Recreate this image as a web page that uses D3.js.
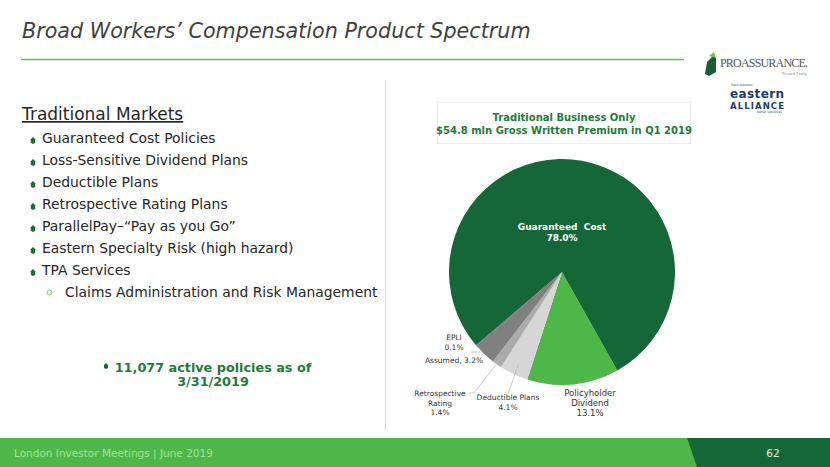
<!DOCTYPE html>
<html>
<head>
<meta charset="utf-8">
<script src="https://cdn.jsdelivr.net/npm/d3@7"></script>
<style>
  body { margin: 0; background: #fff; }
  svg { display: block; font-family: "DejaVu Sans", Verdana, sans-serif; }
</style>
</head>
<body>
<div id="slide"></div>
<script>
// slide size
const width = 830;
const height = 467;

// pie data (clockwise from the policyholder slice)
const categories = ["Policyholder Dividend", "Deductible Plans", "Retrospective Rating", "Assumed", "EPLI", "Guaranteed Cost"];
const shares = [13.1, 4.1, 1.4, 3.2, 0.1, 78.0];
const colors = ["#4db848", "#d6d6d6", "#ababab", "#808080", "#5e5e5e", "#166737"];

// left hand text
const bullets = ["Guaranteed Cost Policies", "Loss-Sensitive Dividend Plans", "Deductible Plans",
  "Retrospective Rating Plans", "ParallelPay\u2013\u201cPay as you Go\u201d",
  "Eastern Specialty Risk (high hazard)", "TPA Services"];
const subBullets = ["Claims Administration and Risk Management"];

const svg = d3.select("#slide")
  .append("svg")
  .attr("width", width)
  .attr("height", height)
  .attr("viewBox", [0, 0, width, height]);

// header
svg.append("text")
  .attr("x", 22).attr("y", 38)
  .attr("font-size", "20.7px")
  .attr("font-style", "italic")
  .attr("fill", "#3f3f3f")
  .text("Broad Workers\u2019 Compensation Product Spectrum");

svg.append("line")
  .attr("x1", 21).attr("x2", 684)
  .attr("y1", 59.5).attr("y2", 59.5)
  .attr("stroke", "#5cc150").attr("stroke-width", 1.5);

// divider
svg.append("line")
  .attr("x1", 385.5).attr("x2", 385.5)
  .attr("y1", 80).attr("y2", 430)
  .attr("stroke", "#d9d9d9").attr("stroke-width", 1);

// logos (rough)
svg.append("path")
  .attr("d", "M707,62 L714,55 L716,58 L716,72 L709,76 L705,74 Z")
  .attr("fill", "#1a5e31");
svg.append("path")
  .attr("d", "M709,56 L714,52 L716,58 Z")
  .attr("fill", "#6cc24a");
svg.append("text")
  .attr("x", 720).attr("y", 67)
  .attr("font-family", "Liberation Serif, serif")
  .attr("font-size", "12px").attr("fill", "#555")
  .attr("textLength", 88)
  .text("PROASSURANCE.");
svg.append("text")
  .attr("x", 807).attr("y", 75)
  .attr("text-anchor", "end")
  .attr("font-family", "Liberation Serif, serif")
  .attr("font-size", "4.5px").attr("fill", "#888")
  .text("Treated Fairly");
svg.append("text")
  .attr("x", 731).attr("y", 86)
  .attr("font-size", "3px").attr("fill", "#1c3a6b")
  .text("fresh outlooks");
svg.append("text")
  .attr("x", 757).attr("y", 98)
  .attr("text-anchor", "middle")
  .attr("font-size", "12px").attr("font-weight", "bold")
  .attr("fill", "#1c3a6b")
  .attr("textLength", 54)
  .text("eastern");
svg.append("text")
  .attr("x", 757).attr("y", 109)
  .attr("text-anchor", "middle")
  .attr("font-size", "8.5px").attr("font-weight", "bold")
  .attr("fill", "#1c3a6b")
  .attr("textLength", 54)
  .text("ALLIANCE");
svg.append("text")
  .attr("x", 770).attr("y", 113)
  .attr("text-anchor", "middle")
  .attr("font-size", "3px").attr("fill", "#1c3a6b")
  .text("better outcomes.");

// left column
const left = svg.append("g");
left.append("text")
  .attr("x", 22).attr("y", 120)
  .attr("font-size", "17px")
  .attr("fill", "#262626")
  .attr("text-decoration", "underline")
  .text("Traditional Markets");

const rowY = d3.scaleLinear().domain([0, 1]).range([143, 165]);

bullets.forEach((b, i) => {
  const y = rowY(i);
  left.append("path")
    .attr("d", `M${33},${y - 6} l2.2,2.2 l0,3.5 l-2.2,1.2 l-2.2,-1.2 l0,-3.5 Z`)
    .attr("fill", "#1a6b38");
  left.append("text")
    .attr("x", 42).attr("y", y)
    .attr("font-size", "13.9px")
    .attr("fill", "#262626")
    .text(b);
});

subBullets.forEach((b, i) => {
  const y = rowY(bullets.length + i);
  left.append("circle")
    .attr("cx", 49.5).attr("cy", y - 4.5).attr("r", 2.5)
    .attr("fill", "none").attr("stroke", "#6cc24a").attr("stroke-width", 0.8);
  left.append("text")
    .attr("x", 65).attr("y", y)
    .attr("font-size", "13.9px")
    .attr("fill", "#262626")
    .text(b);
});

left.append("path")
  .attr("d", "M106,363 l2,2 l0,3 l-2,1 l-2,-1 l0,-3 Z")
  .attr("fill", "#1a6b38");
left.append("text")
  .attr("x", 213).attr("y", 371.5)
  .attr("text-anchor", "middle")
  .attr("font-size", "12.8px").attr("font-weight", "bold")
  .attr("fill", "#1e7b3a")
  .text("11,077 active policies as of");
left.append("text")
  .attr("x", 213).attr("y", 386)
  .attr("text-anchor", "middle")
  .attr("font-size", "12.8px").attr("font-weight", "bold")
  .attr("fill", "#1e7b3a")
  .text("3/31/2019");

// chart title box
svg.append("rect")
  .attr("x", 437.5).attr("y", 102.5)
  .attr("width", 253).attr("height", 41)
  .attr("fill", "#fff")
  .attr("stroke", "#d9d9d9").attr("stroke-dasharray", "1,1");
svg.append("text")
  .attr("x", 564).attr("y", 121)
  .attr("text-anchor", "middle")
  .attr("font-size", "10px").attr("font-weight", "bold")
  .attr("fill", "#1e7b3a")
  .text("Traditional Business Only");
svg.append("text")
  .attr("x", 564).attr("y", 133.5)
  .attr("text-anchor", "middle")
  .attr("font-size", "10px").attr("font-weight", "bold")
  .attr("fill", "#1e7b3a")
  .text("$54.8 mln Gross Written Premium in Q1 2019");

// pie
const cx = 562, cy = 272, radius = 113;
const start = 150.7 * Math.PI / 180;
const pie = d3.pie().sort(null).startAngle(start).endAngle(start + 2 * Math.PI);
const arcs = pie(shares);
const arc = d3.arc().innerRadius(0).outerRadius(radius);

const pieG = svg.append("g").attr("transform", `translate(${cx},${cy})`);
pieG.selectAll("path")
  .data(arcs)
  .enter()
  .append("path")
  .attr("d", arc)
  .attr("fill", (d, i) => colors[i])
  .attr("stroke", "none");

// leader lines for the small slices
const edge = d3.arc().innerRadius(radius * 0.9).outerRadius(radius * 0.9);
const leaders = [
  { i: 1, to: [-54, 122] },
  { i: 2, to: [-94, 121], via: [-88, 121] },
  { i: 4, to: [-91, 80] }
];
leaders.forEach(l => {
  const p = edge.centroid(arcs[l.i]);
  let pts = [p, l.to];
  if (l.i === 4) pts = [[-82, 80], l.to];
  if (l.i === 2) pts = [p, l.via, l.to];
  pieG.append("path")
    .attr("d", d3.line()(pts))
    .attr("fill", "none")
    .attr("stroke", "#bfbfbf").attr("stroke-width", 0.8);
});

// slice labels
const label = (x, y, lines, opts) => {
  const t = svg.append("text")
    .attr("text-anchor", "middle")
    .attr("font-size", opts.size)
    .attr("font-weight", opts.weight || "normal")
    .attr("fill", opts.fill);
  lines.forEach((ln, k) => {
    t.append("tspan").attr("x", x).attr("y", y + k * opts.lh).text(ln);
  });
};
const pct = v => v.toFixed(1) + "%";

label(562, 230, ["Guaranteed\u00a0 Cost", pct(shares[5])], { size: "9px", weight: "bold", fill: "#fff", lh: 11 });
label(590, 396, ["Policyholder", "Dividend", pct(shares[0])], { size: "8.5px", fill: "#333", lh: 10 });
label(508, 400, ["Deductible Plans", pct(shares[1])], { size: "7.5px", fill: "#333", lh: 10 });
label(440, 396, ["Retrospective", "Rating", pct(shares[2])], { size: "7.5px", fill: "#333", lh: 9.5 });
label(454, 363, ["Assumed, " + pct(shares[3])], { size: "7.5px", fill: "#333", lh: 10 });
label(454, 340, ["EPLI", pct(shares[4])], { size: "7.5px", fill: "#333", lh: 10 });

// footer
svg.append("rect")
  .attr("x", 0).attr("y", 438)
  .attr("width", width).attr("height", height - 438)
  .attr("fill", "#4db848");
svg.append("path")
  .attr("d", `M687,438 L${width},438 L${width},${height} L697,${height} Z`)
  .attr("fill", "#166737");
svg.append("text")
  .attr("x", 14).attr("y", 457)
  .attr("font-size", "10.5px")
  .attr("fill", "#a6e09a")
  .text("London Investor Meetings | June 2019");
svg.append("text")
  .attr("x", 773).attr("y", 457)
  .attr("text-anchor", "middle")
  .attr("font-size", "10.5px")
  .attr("fill", "#e6efe6")
  .text("62");
</script>
</body>
</html>
